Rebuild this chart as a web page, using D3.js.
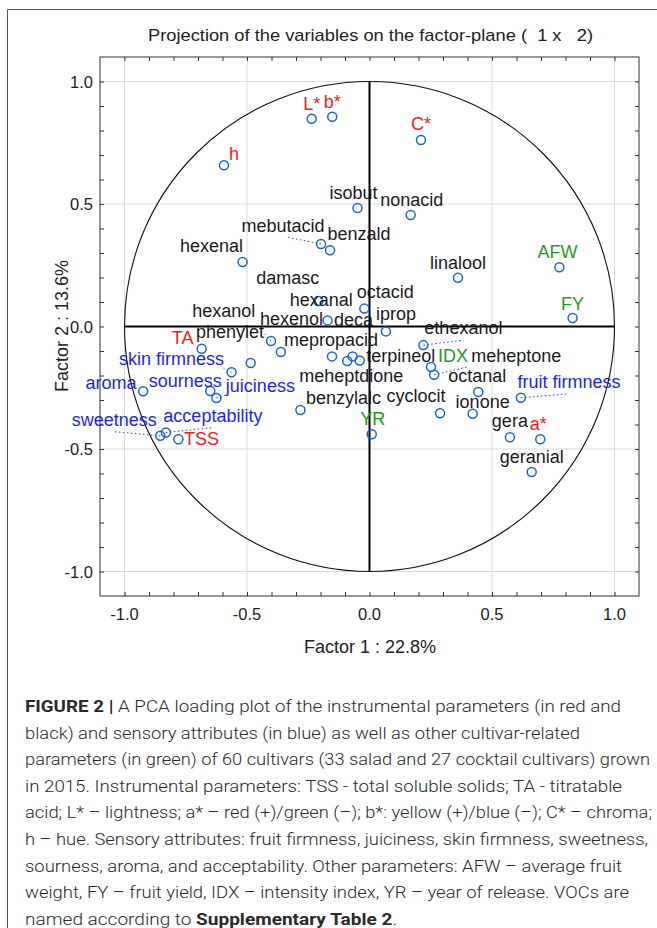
<!DOCTYPE html>
<meta charset='utf-8'>
<style>
    html, body {
        margin: 0;
        background: white;
    }

    svg {
        display: block;
        font-family: 'Liberation Sans', Arimo, Arial, sans-serif;
    }

    .grid line {
        stroke: #dadada;
        stroke-width: 1;
    }

    .axis text {
        font-size: 16.5px;
        fill: #222;
    }

    .pt {
        fill: none;
        stroke: #1764d4;
        stroke-width: 1.5;
    }

    .lbl {
        font-size: 18px;
    }

    .leader {
        stroke: #2a3cf0;
        stroke-width: 1;
        stroke-dasharray: 1.5, 2.5;
    }

    .caption {
        font-family: Roboto, 'Liberation Sans', sans-serif;
        font-weight: 300;
        font-size: 17px;
        fill: #2a2a2a;
    }
</style>
<title>PCA loading plot</title>
<body>

<script src='https://d3js.org/d3.v7.min.js'></script>
<script>

	// variables and their loadings on factor 1 / factor 2
	let names = ['L*', 'b*', 'h', 'C*', 'isobut', 'nonacid', 'mebutacid', 'benzald', 'hexenal', 'linalool',
		'AFW', 'hexanal', 'octacid', 'hexenol', 'FY', 'iprop', 'TA', 'phenylet', 'damasc', 'hexanol',
		'skin firmness', 'mepropacid', 'meheptdione', 'deca', 'terpineol', 'ethexanol', 'IDX', 'meheptone',
		'octanal', 'aroma', 'sourness', 'juiciness', 'benzylalc', 'cyclocit', 'ionone', 'fruit firmness',
		'YR', 'sweetness', 'acceptability', 'TSS', 'gera', 'a*', 'geranial'];

	let factor1 = [-0.236, -0.152, -0.594, 0.210, -0.049, 0.168, -0.198, -0.161, -0.518, 0.361,
		0.775, -0.209, -0.021, -0.171, 0.829, 0.067, -0.685, -0.402, -0.362, -0.485,
		-0.563, -0.153, -0.091, -0.069, -0.040, 0.220, 0.251, 0.264,
		0.444, -0.924, -0.650, -0.625, -0.282, 0.288, 0.421, 0.618,
		0.009, -0.854, -0.831, -0.780, 0.573, 0.697, 0.662];

	let factor2 = [0.848, 0.856, 0.658, 0.761, 0.484, 0.455, 0.337, 0.311, 0.263, 0.199,
		0.242, 0.104, 0.073, 0.025, 0.035, -0.020, -0.091, -0.059, -0.104, -0.149,
		-0.187, -0.122, -0.141, -0.122, -0.139, -0.076, -0.165, -0.197,
		-0.267, -0.264, -0.263, -0.292, -0.341, -0.354, -0.356, -0.291,
		-0.440, -0.446, -0.433, -0.460, -0.452, -0.460, -0.594];

	// instr = red, voc = black, sensory = blue, other = green
	let groups = ['instr', 'instr', 'instr', 'instr', 'voc', 'voc', 'voc', 'voc', 'voc', 'voc',
		'other', 'voc', 'voc', 'voc', 'other', 'voc', 'instr', 'voc', 'voc', 'voc',
		'sensory', 'voc', 'voc', 'voc', 'voc', 'voc', 'other', 'voc',
		'voc', 'sensory', 'sensory', 'sensory', 'voc', 'voc', 'voc', 'sensory',
		'other', 'sensory', 'sensory', 'instr', 'voc', 'instr', 'voc'];

	let tickValues = [-1.0, -0.5, 0.0, 0.5, 1.0];
	let tickLabels = ['-1.0', '-0.5', '0.0', '0.5', '1.0'];

	let title = 'Projection of the variables on the factor-plane (  1 x   2)';
	let xTitle = 'Factor 1 : 22.8%';
	let yTitle = 'Factor 2 : 13.6%';

	let caption = [
		[['FIGURE 2 | ', true], ['A PCA loading plot of the instrumental parameters (in red and', false]],
		[['black) and sensory attributes (in blue) as well as other cultivar-related', false]],
		[['parameters (in green) of 60 cultivars (33 salad and 27 cocktail cultivars) grown', false]],
		[['in 2015. Instrumental parameters: TSS - total soluble solids; TA - titratable', false]],
		[['acid; L* \u2013 lightness; a* \u2013 red (+)/green (\u2013); b*: yellow (+)/blue (\u2013); C* \u2013 chroma;', false]],
		[['h \u2013 hue. Sensory attributes: fruit firmness, juiciness, skin firmness, sweetness,', false]],
		[['sourness, aroma, and acceptability. Other parameters: AFW \u2013 average fruit', false]],
		[['weight, FY \u2013 fruit yield, IDX \u2013 intensity index, YR \u2013 year of release. VOCs are', false]],
		[['named according to ', false], ['Supplementary Table 2', true], ['.', false]]
	];
	let captionWidths = [596, 555, 625, 597, 627, 623, 597, 604, 372];

	// label placement (pixels from the point), Statistica style hand-moved labels
	let labelPos = {
		'L*': [0, -9], 'b*': [0, -9], 'h': [10, -5], 'C*': [0, -10], 'isobut': [-4, -9],
		'nonacid': [1, -9], 'mebutacid': [-38, -12], 'benzald': [29, -10], 'hexenal': [-31, -10],
		'linalool': [0, -9], 'AFW': [-2, -9], 'hexanal': [3, 5], 'octacid': [21, -11],
		'hexenol': [-36, 5], 'FY': [0, -8], 'iprop': [10, -11], 'TA': [-19, -5], 'phenylet': [-41, -3],
		'damasc': [7, -68], 'hexanol': [-27, -46], 'skin firmness': [-60, -7], 'mepropacid': [-1, -10],
		'meheptdione': [4, 21], 'deca': [1, -30], 'terpineol': [41, 1], 'ethexanol': [40, -11],
		'IDX': [22, -5], 'meheptone': [82, -13], 'octanal': [-1, -10], 'aroma': [-32, -2],
		'sourness': [-25, -4], 'juiciness': [44, -6], 'benzylalc': [43, -6], 'cyclocit': [-24, -11],
		'ionone': [10, -6], 'fruit firmness': [48, -10], 'YR': [1, -9], 'sweetness': [-46, -10],
		'acceptability': [47, -11], 'TSS': [23, 6], 'gera': [0, -10], 'a*': [-2, -9], 'geranial': [0, -9]
	};
	// dotted leader ends, relative to the label anchor
	let leaders = {
		'mebutacid': [3, 5], 'ethexanol': [0, 6], 'meheptone': [-48, 5], 'fruit firmness': [-1, 6],
		'sweetness': [0, 6], 'acceptability': [-1, 6], 'phenylet': [33, -6],
		'skin firmness': [52, 3], 'juiciness': [-35, 3]
	};

	let colors = {instr: '#f31a1a', voc: '#1a1a1a', sensory: '#1e1ef5', other: '#1f9a20'};

	let W = 657, H = 928;
	let x = d3.scaleLinear().domain([-1.1, 1.1]).range([100, 639]);
	let y = d3.scaleLinear().domain([-1.1, 1.1]).range([596, 57]);

	let svg = d3.select('body').append('svg')
		.attr('width', W)
		.attr('height', H);

	// page border
	svg.append('path')
		.attr('d', 'M7.5,' + H + 'V9.5H' + W)
		.attr('fill', 'none')
		.attr('stroke', '#555');

	svg.append('text')
		.attr('x', 148)
		.attr('y', 41)
		.attr('textLength', 445)
		.attr('lengthAdjust', 'spacingAndGlyphs')
		.style('white-space', 'pre')
		.style('font-size', '17px')
		.style('fill', '#222')
		.text(title);

	// grid
	let grid = svg.append('g').attr('class', 'grid');
	grid.selectAll('.gx').data(tickValues.filter(function (d) { return d !== 0; }))
		.enter().append('line')
		.attr('x1', function (d) { return x(d); })
		.attr('x2', function (d) { return x(d); })
		.attr('y1', y(1.1)).attr('y2', y(-1.1));
	grid.selectAll('.gy').data(tickValues.filter(function (d) { return d !== 0; }))
		.enter().append('line')
		.attr('y1', function (d) { return y(d); })
		.attr('y2', function (d) { return y(d); })
		.attr('x1', x(-1.1)).attr('x2', x(1.1));

	// inner ticks on all four sides
	let minor = d3.range(-10, 11).map(function (i) { return i / 10; });
	let tl = 4;
	svg.append('g').attr('transform', 'translate(0,' + y(-1.1) + ')')
		.call(d3.axisTop(x).tickValues(minor).tickSize(tl).tickFormat(''))
		.call(function (g) { g.select('.domain').remove(); });
	svg.append('g').attr('transform', 'translate(0,' + y(1.1) + ')')
		.call(d3.axisBottom(x).tickValues(minor).tickSize(tl).tickFormat(''))
		.call(function (g) { g.select('.domain').remove(); });
	svg.append('g').attr('transform', 'translate(' + x(-1.1) + ',0)')
		.call(d3.axisRight(y).tickValues(minor).tickSize(tl).tickFormat(''))
		.call(function (g) { g.select('.domain').remove(); });
	svg.append('g').attr('transform', 'translate(' + x(1.1) + ',0)')
		.call(d3.axisLeft(y).tickValues(minor).tickSize(tl).tickFormat(''))
		.call(function (g) { g.select('.domain').remove(); });
	svg.selectAll('.tick line').attr('stroke', '#333');

	// tick labels
	let axes = svg.append('g').attr('class', 'axis');
	axes.selectAll('.xl').data(tickValues).enter().append('text')
		.attr('x', function (d) { return x(d); })
		.attr('y', 620)
		.attr('text-anchor', 'middle')
		.text(function (d, i) { return tickLabels[i]; });
	axes.selectAll('.yl').data(tickValues).enter().append('text')
		.attr('x', 93)
		.attr('y', function (d) { return y(d) + 6; })
		.attr('text-anchor', 'end')
		.text(function (d, i) { return tickLabels[i]; });

	axes.append('text')
		.attr('x', 370).attr('y', 653)
		.attr('text-anchor', 'middle')
		.style('font-size', '18px')
		.text(xTitle);
	axes.append('text')
		.attr('transform', 'translate(68,326) rotate(-90)')
		.attr('text-anchor', 'middle')
		.style('font-size', '18px')
		.text(yTitle);

	// frame
	svg.append('rect')
		.attr('x', x(-1.1)).attr('y', y(1.1))
		.attr('width', x(1.1) - x(-1.1)).attr('height', y(-1.1) - y(1.1))
		.attr('fill', 'none').attr('stroke', '#333');

	// unit circle and zero axes
	svg.append('ellipse')
		.attr('cx', x(0)).attr('cy', y(0))
		.attr('rx', x(1) - x(0)).attr('ry', y(0) - y(1))
		.attr('fill', 'none').attr('stroke', '#111').attr('stroke-width', 1.1);
	svg.append('line')
		.attr('x1', x(-1)).attr('x2', x(1)).attr('y1', y(0)).attr('y2', y(0))
		.attr('stroke', '#000').attr('stroke-width', 2);
	svg.append('line')
		.attr('x1', x(0)).attr('x2', x(0)).attr('y1', y(1)).attr('y2', y(-1))
		.attr('stroke', '#000').attr('stroke-width', 2);

	let data = names.map(function (n, i) {
		return {name: n, f1: factor1[i], f2: factor2[i], group: groups[i]};
	});

	// leaders
	svg.selectAll('.leader')
		.data(data.filter(function (d) { return leaders[d.name]; }))
		.enter().append('line')
		.attr('class', 'leader')
		.attr('x1', function (d) { return x(d.f1); })
		.attr('y1', function (d) { return y(d.f2); })
		.attr('x2', function (d) { return x(d.f1) + labelPos[d.name][0] + leaders[d.name][0]; })
		.attr('y2', function (d) { return y(d.f2) + labelPos[d.name][1] + leaders[d.name][1]; });

	svg.selectAll('.pt')
		.data(data)
		.enter().append('circle')
		.attr('class', 'pt')
		.attr('cx', function (d) { return x(d.f1); })
		.attr('cy', function (d) { return y(d.f2); })
		.attr('r', 4.5);

	svg.selectAll('.lbl')
		.data(data)
		.enter().append('text')
		.attr('class', 'lbl')
		.attr('x', function (d) { return x(d.f1) + labelPos[d.name][0]; })
		.attr('y', function (d) { return y(d.f2) + labelPos[d.name][1]; })
		.attr('text-anchor', 'middle')
		.style('fill', function (d) { return colors[d.group]; })
		.text(function (d) { return d.name; });

	// caption
	let cap = svg.append('g').attr('class', 'caption');
	caption.forEach(function (line, i) {
		let t = cap.append('text')
			.attr('x', 25)
			.attr('y', 712 + i * 26.6)
			.attr('textLength', captionWidths[i])
			.attr('lengthAdjust', 'spacingAndGlyphs');
		line.forEach(function (part) {
			t.append('tspan')
				.style('font-weight', part[1] ? 700 : 300)
				.text(part[0]);
		});
	});

</script>
</body>
